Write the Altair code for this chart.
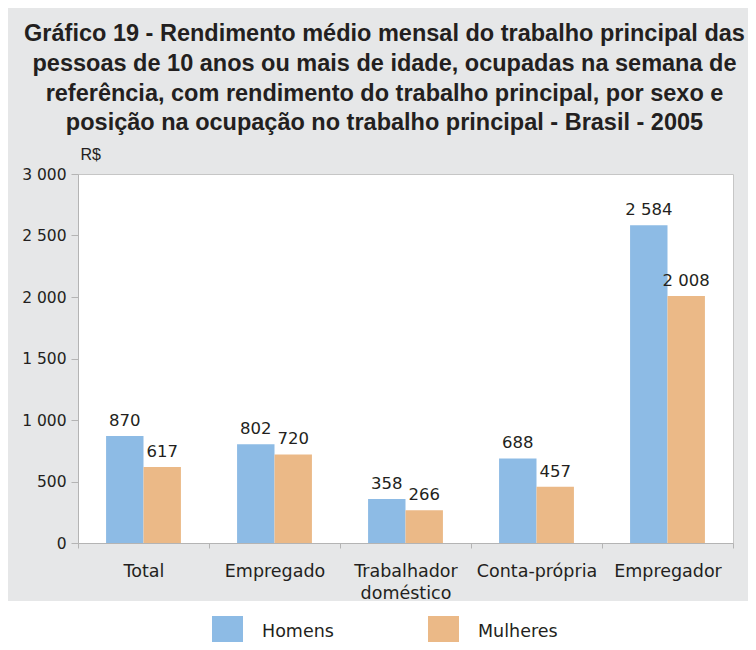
import altair as alt
import pandas as pd

categories = ["Total", "Empregado", "Trabalhador doméstico", "Conta-própria", "Empregador"]
series = ["Homens", "Mulheres"]
homens = [870, 802, 358, 688, 2584]
mulheres = [617, 720, 266, 457, 2008]
colors = ["#8dbbe5", "#ebb987"]
y_ticks = [0, 500, 1000, 1500, 2000, 2500, 3000]
title_lines = [
    "Gráfico 19 - Rendimento médio mensal do trabalho principal das",
    "pessoas de 10 anos ou mais de idade, ocupadas na semana de",
    "referência, com rendimento do trabalho principal, por sexo e",
    "posição na ocupação no trabalho principal - Brasil - 2005",
]

rows = []
for c, h, m in zip(categories, homens, mulheres):
    rows.append({"cat": c, "sexo": series[0], "valor": h})
    rows.append({"cat": c, "sexo": series[1], "valor": m})
df = pd.DataFrame(rows)

W, H = 655, 369
TXT = "#231f20"
LINE = "#b4b4b4"
FONT = "DejaVu Sans"

x_enc = alt.X(
    "cat:N", sort=categories,
    scale=alt.Scale(paddingInner=0, paddingOuter=0),
    axis=alt.Axis(
        title=None, labelAngle=0, tickBand="extent", tickSize=5,
        domainColor=LINE, tickColor=LINE, labelFont=FONT, labelFontSize=17.5,
        labelColor=TXT, labelPadding=14, labelLineHeight=22,
        labelExpr="datum.label == 'Trabalhador doméstico' ? ['Trabalhador', 'doméstico'] : datum.label",
    ),
)
xo_enc = alt.XOffset("sexo:N", sort=series, scale=alt.Scale(paddingInner=0, paddingOuter=0.75))
y_enc = alt.Y(
    "valor:Q",
    scale=alt.Scale(domain=[0, 3000], nice=False),
    axis=alt.Axis(
        values=y_ticks, title="R$", titleAngle=0, titleX=2, titleY=-15,
        titleAlign="left", titleBaseline="alphabetic", titleFont="Liberation Sans",
        titleFontWeight="normal", titleFontSize=16, titleColor=TXT,
        labelExpr="replace(format(datum.value, ','), ',', ' ')",
        labelFont=FONT, labelFontSize=15.5, labelColor=TXT,
        tickSize=7, labelPadding=5, grid=False, domainColor=LINE, tickColor=LINE,
    ),
)

base = alt.Chart(df).encode(x=x_enc, xOffset=xo_enc)

band = alt.Chart(alt.Data(values=[{"k": 1}])).mark_rect(color="white", clip=False).encode(
    x=alt.value(-80), x2=alt.value(W + 40), y=alt.value(427), y2=alt.value(H + 120)
)

bars = base.mark_bar().encode(
    y=y_enc,
    color=alt.Color(
        "sexo:N", sort=series,
        scale=alt.Scale(domain=series, range=colors),
        legend=alt.Legend(
            title=None, orient="none", legendX=134, legendY=442, direction="horizontal",
            symbolType="square", symbolSize=961, symbolStrokeWidth=0, symbolOpacity=1,
            labelFont=FONT, labelFontSize=17.5, labelColor=TXT, labelOffset=19,
            columnPadding=94, padding=0,
        ),
    ),
)

labels = base.transform_calculate(
    label="replace(format(datum.valor, ','), ',', ' ')"
).mark_text(font=FONT, fontSize=16.5, color=TXT, baseline="alphabetic", dy=-10).encode(
    y=alt.Y("valor:Q", scale=alt.Scale(domain=[0, 3000], nice=False)),
    text="label:N",
)

chart = alt.layer(band, bars, labels).properties(
    width=W, height=H,
    autosize=alt.AutoSizeParams(type="none"),
    padding={"left": 70, "top": 166, "right": 15, "bottom": 99},
    title=alt.TitleParams(
        text=title_lines, font="Liberation Sans", fontSize=23.5, fontWeight="bold",
        color=TXT, anchor="middle", lineHeight=29.7, offset=11, dx=-21,
    ),
).configure(background="#e6e7e8").configure_view(fill="white", stroke="#c6c6c6")

chart.save("out.html", embed_options={"renderer": "svg", "actions": False})
